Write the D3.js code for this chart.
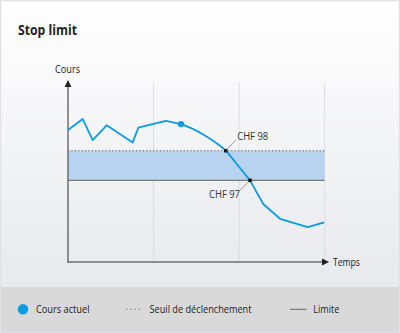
<!DOCTYPE html>
<html><head><meta charset="utf-8">
<script src="https://cdn.jsdelivr.net/npm/d3@7"></script>
<style>
html,body{margin:0;padding:0;background:#fff;}
svg{display:block;font-family:"Open Sans",sans-serif;}
</style></head>
<body><svg id="c" width="400" height="333"></svg>
<script>
// ---- data ----
const trendT = [0, 0.172, 0.289, 0.452, 0.756, 0.822, 1.145, 1.321];
const trendP = [98.70, 99.07, 98.36, 98.86, 98.28, 98.78, 99.01, 98.90];
const fallT = [1.321, 1.426, 1.581, 1.718, 1.843, 1.972, 2.127];
const fallP = [98.90, 98.78, 98.55, 98.29, 98.00, 97.55, 97.00];
const tailT = [2.127, 2.282, 2.478, 2.801, 2.995];
const tailP = [97.00, 96.20, 95.70, 95.42, 95.58];
const currentT = [1.321];
const currentP = [98.90];
const triggerPrice = 98;
const limitPrice = 97;
const gridTicks = [1, 2, 3];
const markers = [{t:1.843, p:98, label:"CHF 98"}, {t:2.127, p:97, label:"CHF 97"}];
const legendLabels = ["Cours actuel", "Seuil de déclenchement", "Limite"];

const svg = d3.select("#c");
const W = 400, H = 333;
const defs = svg.append("defs");
const g1 = defs.append("linearGradient").attr("id","bg").attr("x1",0).attr("y1",0).attr("x2",0).attr("y2",1);
g1.append("stop").attr("offset","0%").attr("stop-color","#ffffff");
g1.append("stop").attr("offset","100%").attr("stop-color","#e8e9ed");
svg.append("rect").attr("x",0).attr("y",0).attr("width",W).attr("height",287).attr("fill","url(#bg)");
svg.append("rect").attr("x",0).attr("y",287).attr("width",W).attr("height",H-287).attr("fill","#d9d9d9");
svg.append("rect").attr("x",0.5).attr("y",0.5).attr("width",W-1).attr("height",H-1).attr("fill","none").attr("stroke","#e2e2e4").attr("stroke-width",1.5);

const x = d3.scaleLinear().domain([0,3]).range([68,324.7]);
const y = d3.scaleLinear().domain([94.24,100.39]).range([262,80]);

// grid
svg.selectAll(".grid").data(gridTicks).join("line")
  .attr("x1",d=>x(d)).attr("x2",d=>x(d)).attr("y1",83).attr("y2",262)
  .attr("stroke","#dcdde0").attr("stroke-width",1);

// band
svg.append("rect").attr("x",x(0)).attr("width",x(3)-x(0))
  .attr("y",y(triggerPrice)).attr("height",y(limitPrice)-y(triggerPrice)).attr("fill","#b8d3ef");
svg.append("line").attr("x1",x(0)).attr("x2",x(3)).attr("y1",y(triggerPrice)).attr("y2",y(triggerPrice))
  .attr("stroke","#555").attr("stroke-width",1).attr("stroke-dasharray","1.2,2.2");
svg.append("line").attr("x1",x(0)).attr("x2",x(3)).attr("y1",y(limitPrice)).attr("y2",y(limitPrice))
  .attr("stroke","#7a7a7e").attr("stroke-width",1.3);

// axes
svg.append("line").attr("x1",x(0)).attr("x2",x(0)).attr("y1",84).attr("y2",262.5).attr("stroke","#6e6e72").attr("stroke-width",1.5);
svg.append("line").attr("x1",67.3).attr("x2",324).attr("y1",262).attr("y2",262).attr("stroke","#6e6e72").attr("stroke-width",1.5);
svg.append("path").attr("d","M68,80 L64.5,87 L71.5,87 Z").attr("fill","#222");
svg.append("path").attr("d","M329,262 L322,258.5 L322,265.5 Z").attr("fill","#222");

// line
const lineL = d3.line().x(d=>x(d[0])).y(d=>y(d[1]));
const lineC = d3.line().x(d=>x(d[0])).y(d=>y(d[1])).curve(d3.curveMonotoneX);
const blue = "#0a9be2";
svg.append("path").datum(d3.zip(trendT,trendP)).attr("d",lineL).attr("fill","none").attr("stroke",blue).attr("stroke-width",1.8).attr("stroke-linejoin","round");
svg.append("path").datum(d3.zip(fallT,fallP)).attr("d",lineC).attr("fill","none").attr("stroke",blue).attr("stroke-width",1.8);
svg.append("path").datum(d3.zip(tailT,tailP)).attr("d",lineL).attr("fill","none").attr("stroke",blue).attr("stroke-width",1.8).attr("stroke-linejoin","round");
svg.selectAll(".cur").data(d3.zip(currentT,currentP)).join("circle")
  .attr("cx",d=>x(d[0])).attr("cy",d=>y(d[1])).attr("r",3.2).attr("fill",blue);

// markers
const m0 = markers[0], m1 = markers[1];
svg.append("line").attr("x1",x(m0.t)).attr("y1",y(m0.p)).attr("x2",x(m0.t)+10.5).attr("y2",y(m0.p)-11).attr("stroke","#999").attr("stroke-width",1);
svg.append("line").attr("x1",x(m1.t)).attr("y1",y(m1.p)).attr("x2",x(m1.t)-10).attr("y2",y(m1.p)+10).attr("stroke","#999").attr("stroke-width",1);
svg.selectAll(".mk").data(markers).join("rect")
  .attr("x",d=>x(d.t)-1.7).attr("y",d=>y(d.p)-1.7).attr("width",3.4).attr("height",3.4).attr("fill","#111");
svg.append("text").attr("x",x(m0.t)+11.5).attr("y",y(m0.p)-10.5).text(m0.label).attr("font-size","11px").attr("fill","#333").attr("textLength",31).attr("lengthAdjust","spacingAndGlyphs");
svg.append("text").attr("x",x(m1.t)-41).attr("y",y(m1.p)+18).text(m1.label).attr("font-size","11px").attr("fill","#333").attr("textLength",31).attr("lengthAdjust","spacingAndGlyphs");

// titles
svg.append("text").attr("x",18).attr("y",34.5).text("Stop limit").attr("font-size","13.5px").attr("font-weight","bold").attr("fill","#222").attr("textLength",59).attr("lengthAdjust","spacingAndGlyphs");
svg.append("text").attr("x",55).attr("y",72.5).text("Cours").attr("font-size","11px").attr("fill","#222").attr("textLength",25).attr("lengthAdjust","spacingAndGlyphs");
svg.append("text").attr("x",333).attr("y",265.5).text("Temps").attr("font-size","11px").attr("fill","#222").attr("textLength",27).attr("lengthAdjust","spacingAndGlyphs");

// legend
svg.append("circle").attr("cx",23).attr("cy",309.3).attr("r",5.2).attr("fill","#0a9be2");
svg.append("line").attr("x1",126).attr("x2",142).attr("y1",309.3).attr("y2",309.3).attr("stroke","#666").attr("stroke-dasharray","1.2,3");
svg.append("line").attr("x1",290).attr("x2",306.5).attr("y1",309.3).attr("y2",309.3).attr("stroke","#666").attr("stroke-width",1);
const lx = [36, 149.5, 313.3], lw = [53.5, 102, 26];
svg.selectAll(".lt").data(legendLabels).join("text")
  .attr("x",(d,i)=>lx[i]).attr("y",312.5).text(d=>d)
  .attr("font-size","11px").attr("fill","#222")
  .attr("textLength",(d,i)=>lw[i]).attr("lengthAdjust","spacingAndGlyphs");
</script></body></html>
